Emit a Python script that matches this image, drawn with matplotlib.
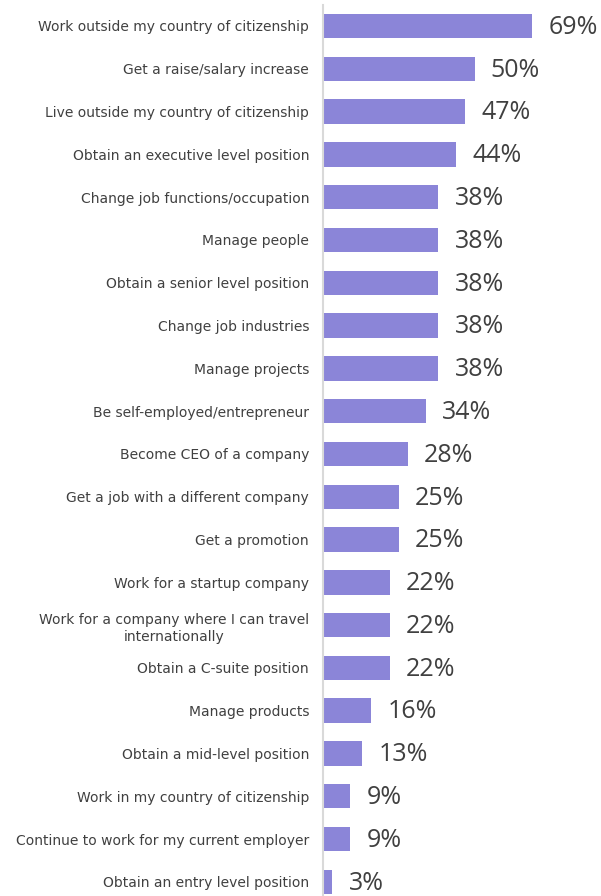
import matplotlib.pyplot as plt

labels = [
    "Work outside my country of citizenship",
    "Get a raise/salary increase",
    "Live outside my country of citizenship",
    "Obtain an executive level position",
    "Change job functions/occupation",
    "Manage people",
    "Obtain a senior level position",
    "Change job industries",
    "Manage projects",
    "Be self-employed/entrepreneur",
    "Become CEO of a company",
    "Get a job with a different company",
    "Get a promotion",
    "Work for a startup company",
    "Work for a company where I can travel\ninternationally",
    "Obtain a C-suite position",
    "Manage products",
    "Obtain a mid-level position",
    "Work in my country of citizenship",
    "Continue to work for my current employer",
    "Obtain an entry level position",
]
values = [69, 50, 47, 44, 38, 38, 38, 38, 38, 34, 28, 25, 25, 22, 22, 22, 16, 13, 9, 9, 3]

W, H = 601, 896
fig = plt.figure(figsize=(W / 100, H / 100), dpi=100)
ax = fig.add_axes([323 / W, 0, 1 - 323 / W, 1 - 5 / H])

y = list(range(len(values)))
ax.barh(y, values, height=0.57, color="#8b85d8")
for yi, v in zip(y, values):
    ax.text(v + 5.4, yi + 0.03, f"{v}%", va="center", ha="left", fontsize=18,
            color="#404040", family="Open Sans")

ax.set_yticks(y)
ax.set_yticklabels(labels, fontsize=10, color="#404040", ha="right",
                   multialignment="center", linespacing=1.35)
ax.tick_params(axis="y", length=0, pad=10)
ax.set_xticks([])
ax.set_xlim(0, 278 / 3.03)
ax.set_ylim(20.33, -0.49)
for s in ["top", "right", "bottom"]:
    ax.spines[s].set_visible(False)
ax.spines["left"].set_color("#d9d9d9")
ax.spines["left"].set_linewidth(1.5)

fig.savefig("out.png", dpi=100)
